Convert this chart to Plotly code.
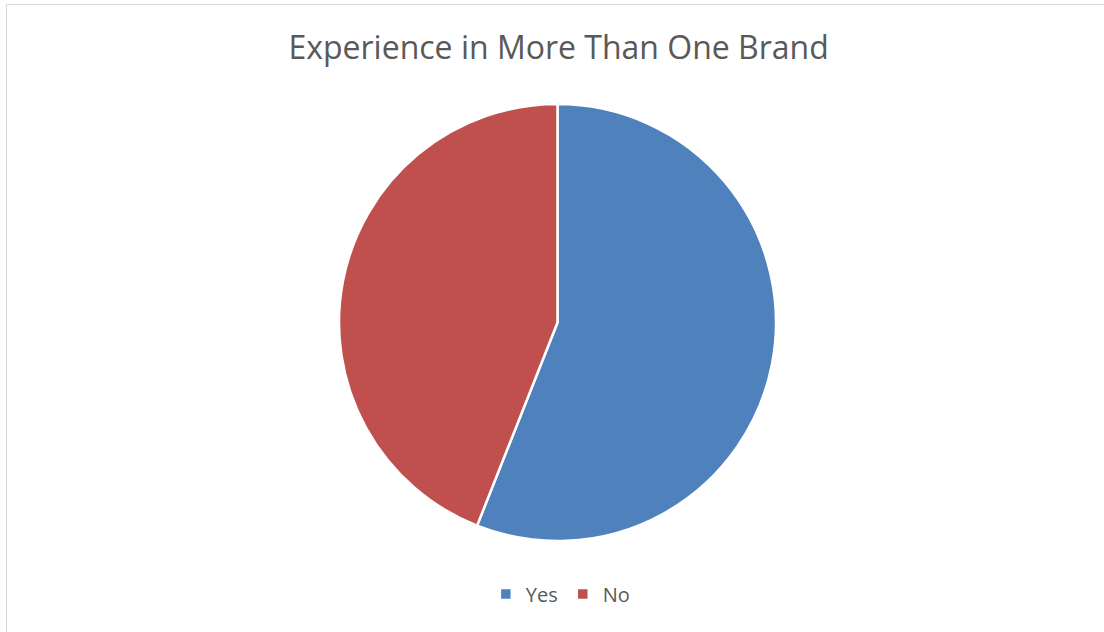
import plotly.graph_objects as go

# Survey response split
labels = ["Yes", "No"]
values = [56, 44]
colors = ["#4F81BD", "#C0504D"]

W, H = 1104, 632

fig = go.Figure(
    go.Pie(
        labels=labels,
        values=values,
        sort=False,
        direction="clockwise",
        rotation=0,
        marker=dict(colors=colors, line=dict(color="#FFFFFF", width=2.5)),
        textinfo="none",
        hoverinfo="label+value+percent",
        domain=dict(x=[339 / W, 776 / W], y=[(H - 541) / H, (H - 104) / H]),
    )
)

fig.update_layout(
    width=W,
    height=H,
    margin=dict(l=0, r=0, t=0, b=0),
    paper_bgcolor="#FFFFFF",
    plot_bgcolor="#FFFFFF",
    title=dict(
        text="Experience in More Than One Brand",
        x=0.506,
        xanchor="center",
        y=1 - 48 / H,
        yanchor="middle",
        font=dict(family="Open Sans, sans-serif", size=32, color="#595959"),
    ),
    legend=dict(
        orientation="h",
        x=0.508,
        xanchor="center",
        y=1 - 594 / H,
        yanchor="middle",
        font=dict(family="Open Sans, sans-serif", size=20, color="#595959"),
        itemwidth=30,
    ),
    shapes=[
        dict(
            type="rect",
            xref="paper",
            yref="paper",
            x0=6.5 / W,
            x1=1.2,
            y0=-0.2,
            y1=1 - 4.5 / H,
            line=dict(color="#D9D9D9", width=1),
            fillcolor="rgba(0,0,0,0)",
            layer="below",
        )
    ],
)

fig.write_html("out.html")
